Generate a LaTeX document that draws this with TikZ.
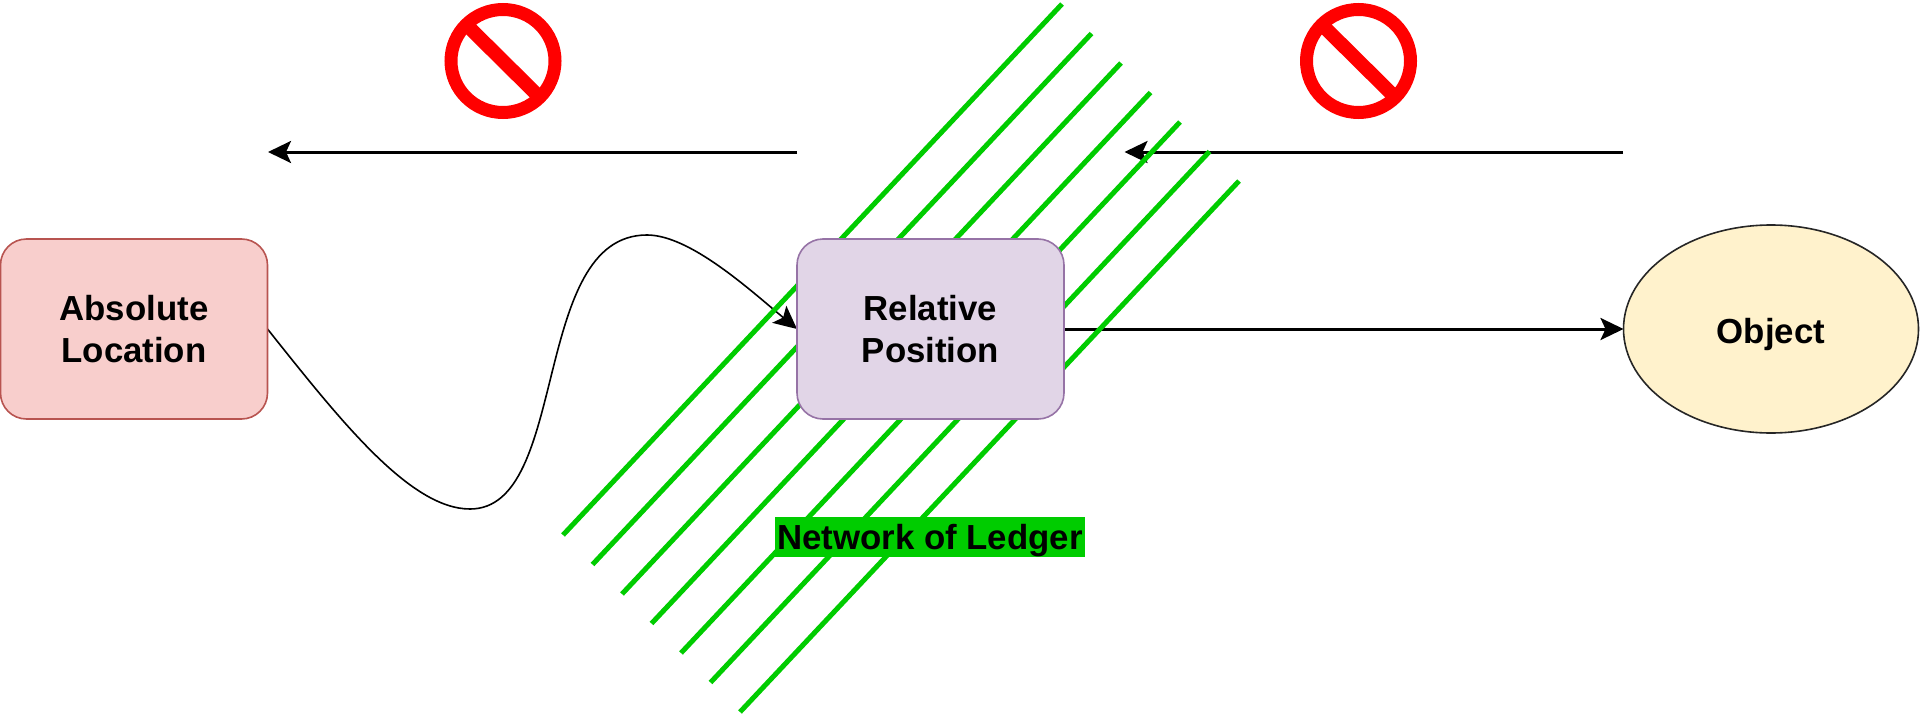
\documentclass[tikz,border=0pt]{standalone}
\usepackage{fontspec}
\setmainfont{Liberation Sans}
\usepackage{xcolor}
\usetikzlibrary{arrows.meta, shapes.geometric, backgrounds}

\definecolor{redfill}{HTML}{F8CECC}
\definecolor{redline}{HTML}{B85450}
\definecolor{purplefill}{HTML}{E1D5E7}
\definecolor{purpleline}{HTML}{9673A6}
\definecolor{yellowfill}{HTML}{FFF2CC}
\definecolor{ledgergreen}{HTML}{00CC00}

\tikzset{
  boxtext/.style={font=\fontsize{17.4}{20.8}\selectfont\bfseries, align=center, inner sep=0pt, outer sep=0pt},
  roundbox/.style={boxtext, draw, line width=0.8pt, rectangle, rounded corners=13pt, minimum width=133.5pt, minimum height=90pt},
  objectshape/.style={boxtext, draw=black!85, fill=yellowfill, line width=0.8pt, ellipse, minimum width=295*0.5pt, minimum height=208*0.5pt, text depth=0pt, text height=14pt},
  nosign/.style={draw=red, line width=6.5pt, ellipse, inner sep=0pt, outer sep=0pt, minimum width=52pt, minimum height=51.5pt},
  nosignbar/.style={draw=red, line width=7pt, shorten <=2.5pt, shorten >=2.5pt},
  straightarrow/.style={draw=black, line width=1.5pt, -{Stealth[length=11.5pt,width=11pt,inset=2.5pt]}},
  curvearrow/.style={draw=black, line width=0.8pt, -{Stealth[length=11.5pt,width=11pt,inset=2.5pt]}},
  ledgerline/.style={draw=ledgergreen, line width=2.5pt},
  ledgerlabel/.style={boxtext, fill=ledgergreen, minimum width=155pt, minimum height=20pt, text depth=0pt}
}

\begin{document}
\begin{tikzpicture}[x=0.5pt,y=-0.5pt]
  \useasboundingbox (0,0) rectangle (1920,717);

  \node[roundbox,fill=redfill,draw=redline] (absolute) at (134,329) {Absolute\\Location};
  \node[roundbox,fill=purplefill,draw=purpleline] (relative) at (930.5,329) {Relative\\Position};
  \node[objectshape] (object) at (1771,329) {Object};
  \node[ledgerlabel] (ledger) at (930,537) {Network of Ledger};

  \node[nosign] (signleft) at (503,61) {};
  \draw[nosignbar] (signleft.north west) -- (signleft.south east);
  \node[nosign] (signright) at (1358.5,61) {};
  \draw[nosignbar] (signright.north west) -- (signright.south east);

  \coordinate (leftstart) at (797,152);
  \coordinate (leftend) at (268,152);
  \coordinate (rightstart) at (1623,152);
  \coordinate (rightend) at (1124.5,152);

  \begin{scope}[on background layer]
    \draw[straightarrow] (leftstart) -- (leftend);
    \draw[straightarrow] (rightstart) -- (rightend);
    \draw[straightarrow] (relative.east) -- (object.west);
    \draw[curvearrow] (absolute.east) .. controls (340,420) and (410,509) .. (470,509)
      .. controls (570,509) and (530,235) .. (647,235)
      .. controls (690,235) and (750,290) .. (relative.west);

    \foreach \i in {0,...,6}
      \draw[ledgerline] (563+29.5*\i,535+29.5*\i) -- (1062+29.5*\i,4+29.5*\i);
  \end{scope}
\end{tikzpicture}
\end{document}
